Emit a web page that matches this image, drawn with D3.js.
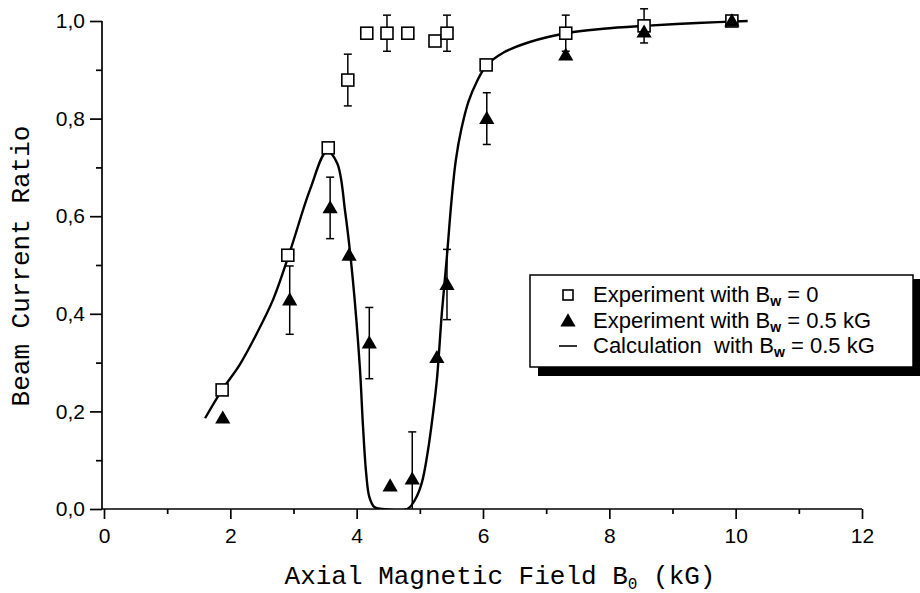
<!DOCTYPE html>
<html><head><meta charset="utf-8">
<script src="https://cdn.jsdelivr.net/npm/d3@7/dist/d3.min.js"></script>
<style>body{margin:0;background:#fff}svg{display:block}</style>
</head><body>
<svg id="c" width="920" height="593"></svg>
<script>
// Experiment with Bw = 0 (open squares)
const sqX   = [1.87, 2.91, 3.55, 3.86, 4.16, 4.48, 4.81, 5.24, 5.43, 6.05, 7.31, 8.55, 9.94];
const sqY   = [0.244, 0.52, 0.74, 0.879, 0.975, 0.975, 0.975, 0.959, 0.975, 0.91, 0.975, 0.99, 1.0];
const sqErr = [0, 0, 0, 0.053, 0, 0.037, 0, 0, 0.037, 0, 0.037, 0.035, 0];
// Experiment with Bw = 0.5 kG (filled triangles)
const triX    = [1.88, 2.94, 3.58, 3.88, 4.2, 4.53, 4.88, 5.27, 5.43, 6.06, 7.31, 8.55, 9.94];
const triY    = [0.186, 0.428, 0.617, 0.52, 0.34, 0.047, 0.061, 0.31, 0.46, 0.80, 0.93, 0.977, 1.0];
const triErrHi = [0, 0.07, 0.063, 0, 0.073, 0, 0.097, 0, 0.072, 0.053, 0, 0, 0];
const triErrLo = [0, 0.07, 0.063, 0, 0.073, 0, 0.061, 0, 0.072, 0.053, 0, 0, 0];
// Calculation with Bw = 0.5 kG
const calcX = [1.60, 1.87, 2.15, 2.40, 2.68, 2.95, 3.26, 3.53, 3.69, 3.82, 3.94, 4.05, 4.10, 4.15, 4.20, 4.28, 4.40, 4.80, 4.92, 5.03, 5.13, 5.21, 5.27, 5.35, 5.43, 5.50, 5.57, 5.66, 5.77, 5.90, 6.05, 6.32, 6.74, 7.31, 7.90, 8.55, 9.39, 10.19];
const calcY = [0.186, 0.244, 0.296, 0.355, 0.43, 0.53, 0.654, 0.733, 0.709, 0.607, 0.469, 0.291, 0.170, 0.074, 0.025, 0.004, 0.0, 0.0, 0.018, 0.053, 0.121, 0.197, 0.265, 0.404, 0.52, 0.63, 0.715, 0.78, 0.835, 0.875, 0.908, 0.935, 0.957, 0.975, 0.984, 0.99, 0.996, 1.0];
const xTicks = [0, 2, 4, 6, 8, 10, 12];
const xMinor = [1, 3, 5, 7, 9, 11];
const yTicks = [0, 0.2, 0.4, 0.6, 0.8, 1.0];
const yMinor = [0.1, 0.3, 0.5, 0.7, 0.9];
const legendLabels = ["Experiment with B", "Experiment with B", "Calculation\u00a0 with B"];
const legendTails = [" = 0", " = 0.5 kG", " = 0.5 kG"];

const svg = d3.select("#c");
const x = d3.scaleLinear().domain([0, 12]).range([104, 862]);
const y = d3.scaleLinear().domain([0, 1]).range([509, 21]);
const fmt = v => d3.format(".1f")(v).replace(".", ",");

svg.append("defs").append("clipPath").attr("id", "plot")
  .append("rect").attr("x", 104).attr("y", 0).attr("width", 760).attr("height", 509);

// Y axis
const gy = svg.append("g").attr("transform", "translate(102,0)");
gy.call(d3.axisLeft(y).tickValues(yTicks).tickSize(12).tickPadding(5).tickFormat(fmt));
gy.append("g").call(d3.axisLeft(y).tickValues(yMinor).tickSize(6).tickFormat(""));
gy.selectAll(".domain").remove();
gy.append("line").attr("x1", 0).attr("x2", 0).attr("y1", y(1)).attr("y2", y(0)).attr("stroke", "#000");
gy.selectAll("line").attr("stroke-width", 1.7);
gy.selectAll("text").attr("font-family", "Liberation Sans, Arial, sans-serif").attr("font-size", 21).attr("fill", "#000");

// X axis
const gx = svg.append("g").attr("transform", "translate(0,509)");
gx.call(d3.axisBottom(x).tickValues(xTicks).tickSize(10).tickPadding(9).tickFormat(d3.format("d")));
gx.append("g").call(d3.axisBottom(x).tickValues(xMinor).tickSize(5).tickFormat(""));
gx.selectAll(".domain").remove();
gx.append("line").attr("x1", x(0) - 2).attr("x2", x(12)).attr("y1", 0).attr("y2", 0).attr("stroke", "#000");
gx.selectAll("line").attr("stroke-width", 1.7);
gx.selectAll("text").attr("font-family", "Liberation Sans, Arial, sans-serif").attr("font-size", 21).attr("fill", "#000");

// Axis titles
svg.append("text").attr("x", 500).attr("y", 584).attr("text-anchor", "middle")
  .attr("font-family", "Liberation Mono, Courier New, monospace").attr("font-size", 26).attr("fill", "#000")
  .html('Axial Magnetic Field B<tspan font-size="16" dy="5">0</tspan><tspan dy="-5"> (kG)</tspan>');
svg.append("text").attr("transform", "translate(29,266) rotate(-90)").attr("text-anchor", "middle")
  .attr("font-family", "Liberation Mono, Courier New, monospace").attr("font-size", 26).attr("fill", "#000")
  .text("Beam Current Ratio");

// Calculation curve
const line = d3.line().x(d => x(d[0])).y(d => y(d[1])).curve(d3.curveCatmullRom.alpha(0.5));
svg.append("path").datum(calcX.map((v, i) => [v, calcY[i]])).attr("d", line)
  .attr("clip-path", "url(#plot)")
  .attr("fill", "none").attr("stroke", "#000").attr("stroke-width", 2.4);

// Error bars
function errBar(cx, lo, hi) {
  const g = svg.append("g").attr("stroke", "#000").attr("stroke-width", 1.5);
  g.append("line").attr("x1", x(cx)).attr("x2", x(cx)).attr("y1", y(lo)).attr("y2", y(hi));
  g.append("line").attr("x1", x(cx) - 4).attr("x2", x(cx) + 4).attr("y1", y(hi)).attr("y2", y(hi));
  if (lo > 0) g.append("line").attr("x1", x(cx) - 4).attr("x2", x(cx) + 4).attr("y1", y(lo)).attr("y2", y(lo));
}
sqX.forEach((v, i) => { if (sqErr[i] > 0) errBar(v, sqY[i] - sqErr[i], sqY[i] + sqErr[i]); });
triX.forEach((v, i) => { if (triErrHi[i] > 0) errBar(v, Math.max(0, triY[i] - triErrLo[i]), triY[i] + triErrHi[i]); });

// Squares
svg.append("g").selectAll("rect").data(sqX).join("rect")
  .attr("x", d => x(d) - 6).attr("y", (d, i) => y(sqY[i]) - 6).attr("width", 12).attr("height", 12)
  .attr("fill", "#fff").attr("stroke", "#000").attr("stroke-width", 1.6);
// Triangles
const tri = d3.symbol().type(d3.symbolTriangle).size(100);
svg.append("g").selectAll("path").data(triX).join("path")
  .attr("d", tri).attr("transform", (d, i) => `translate(${x(d)},${y(triY[i]) + 1})`)
  .attr("fill", "#000");

// Legend
const lg = svg.append("g");
lg.append("rect").attr("x", 538).attr("y", 279).attr("width", 382).attr("height", 97).attr("fill", "#000");
lg.append("rect").attr("x", 530).attr("y", 275).attr("width", 383).attr("height", 92)
  .attr("fill", "#fff").attr("stroke", "#000").attr("stroke-width", 1.5);
const rowsY = [302, 328, 353];
lg.append("rect").attr("x", 563).attr("y", rowsY[0] - 12).attr("width", 10).attr("height", 10)
  .attr("fill", "#fff").attr("stroke", "#000").attr("stroke-width", 1.6);
lg.append("path").attr("d", tri).attr("transform", `translate(568,${rowsY[1] - 6})`).attr("fill", "#000");
lg.append("line").attr("x1", 559).attr("x2", 577).attr("y1", rowsY[2] - 7).attr("y2", rowsY[2] - 7)
  .attr("stroke", "#000").attr("stroke-width", 1.6);
legendLabels.forEach((t, i) => {
  const tx = lg.append("text").attr("x", 593).attr("y", rowsY[i])
    .attr("font-family", "Liberation Sans, Arial, sans-serif").attr("font-size", 22).attr("fill", "#000");
  tx.append("tspan").text(t);
  tx.append("tspan").attr("font-size", 14).attr("font-weight", "bold").attr("dy", 4).text("w");
  tx.append("tspan").attr("dy", -4).text(legendTails[i]);
});
</script>
</body></html>
